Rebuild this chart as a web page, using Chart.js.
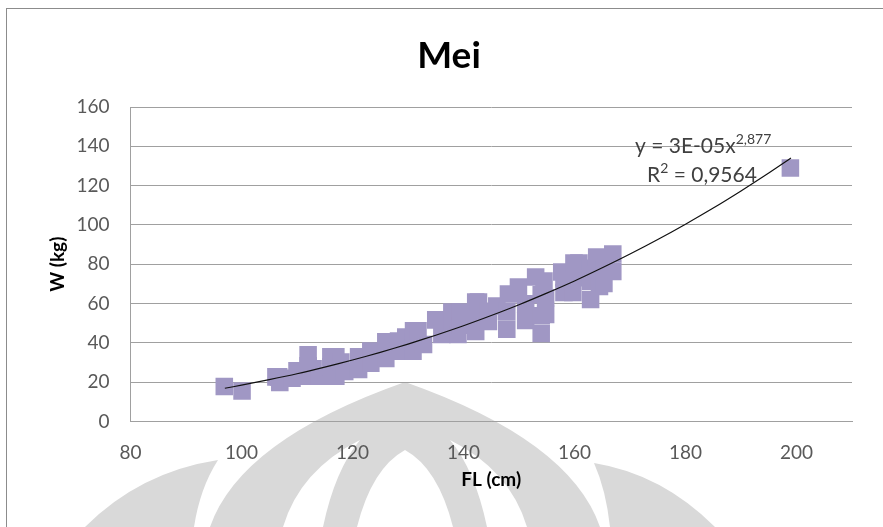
<!DOCTYPE html>
<html>
<head>
<meta charset="utf-8">
<script src="https://cdn.jsdelivr.net/npm/chart.js@4.4.1/dist/chart.umd.min.js"></script>
<style>
  html, body { margin: 0; padding: 0; background: #ffffff; }
  #wrap { width: 883px; height: 527px; }
</style>
</head>
<body>
<div id="wrap"><canvas id="c" width="883" height="527"></canvas></div>
<script>
// ---- data ----
const chartTitle = "Mei";
const xAxisTitle = "FL (cm)";
const yAxisTitle = "W (kg)";
const xTicks = [80, 100, 120, 140, 160, 180, 200];
const yTicks = [0, 20, 40, 60, 80, 100, 120, 140, 160];

// observations (FL in cm, W in kg)
const flCm = [
  96.9, 100.1,
  106.2, 106.7, 106.9, 109.1, 110.0,
  112.0, 112.0, 112.0, 112.9, 114.1,
  116.1, 116.1, 116.1, 117.0, 117.0, 117.0, 117.9, 118.6,
  121.1, 121.1, 123.3, 123.3, 126.0, 126.0, 126.4,
  128.3, 128.3, 129.6, 130.9, 130.9, 131.0, 131.8, 132.8,
  135.0, 136.1, 137.9, 138.0, 139.0, 139.5, 139.5,
  142.2, 142.2, 142.2, 142.7, 144.5, 144.5,
  146.0, 147.8, 147.8, 148.1, 149.9,
  151.2, 151.2, 153.0, 154.0, 154.0, 154.0, 154.5, 154.8, 154.8,
  157.7, 158.1, 158.1, 159.7, 159.9, 160.8, 160.8,
  162.9, 162.9, 162.9, 164.0, 164.5, 165.3, 165.3, 166.9, 166.9,
  198.9
];
const wKg = [
  17.8, 15.5,
  22.7, 22.7, 19.9, 22.0, 25.8,
  33.9, 23.0, 28.4, 26.8, 23.0,
  32.9, 23.0, 27.9, 32.9, 23.0, 27.9, 30.3, 25.5,
  32.9, 26.5, 35.9, 29.6, 40.5, 32.1, 40.5,
  35.7, 40.9, 43.0, 35.7, 40.9, 46.1, 46.1, 39.2,
  51.7, 44.3, 55.7, 49.0, 44.3, 55.7, 49.0,
  60.8, 45.8, 53.6, 60.8, 50.9, 56.1,
  58.8, 46.9, 55.9, 64.9, 68.4,
  51.4, 59.9, 73.5, 44.8, 64.5, 53.8, 71.5, 54.5, 63.0,
  76.1, 65.6, 73.1, 65.6, 80.6, 80.6, 73.1,
  62.1, 71.4, 78.0, 83.7, 68.7, 70.2, 76.9, 85.2, 76.3,
  129.0
];

// power trend line as drawn in the picture (sampled along the curve)
const trendX = [97, 100, 105, 110, 115, 120, 125, 130, 135, 140, 145, 150, 155, 160, 165, 170, 175, 180, 185, 190, 195, 199];
const trendY = [16.9, 18.5, 21.3, 24.3, 27.7, 31.3, 35.2, 39.4, 43.9, 48.7, 53.9, 59.4, 65.3, 71.5, 78.2, 85.2, 92.6, 100.4, 108.6, 117.3, 126.4, 134.0];

const eqMain = "y = 3E-05x";
const eqExp = "2,877";
const r2Lead = "R";
const r2Sup = "2";
const r2Rest = " = 0,9564";

// ---- build chart ----
const scatterPts = flCm.map((x, i) => ({ x: x, y: wKg[i] }));
const trendPts = trendX.map((x, i) => ({ x: x, y: trendY[i] }));

const FONT = "Lato, 'Open Sans', 'DejaVu Sans', sans-serif";

const decorPlugin = {
  id: 'decor',
  beforeDraw(chart) {
    const ctx = chart.ctx;
    ctx.save();
    ctx.fillStyle = '#ffffff';
    ctx.fillRect(0, 0, chart.width, chart.height);

    // faint watermark
    ctx.fillStyle = '#d9d9d9';
    ctx.beginPath();
    ctx.moveTo(85, 527); ctx.quadraticCurveTo(140, 472, 218, 460);
    ctx.quadraticCurveTo(200, 488, 194, 527); ctx.closePath();
    ctx.moveTo(715, 527); ctx.quadraticCurveTo(662, 474, 594, 463);
    ctx.quadraticCurveTo(606, 490, 610, 527); ctx.closePath();
    ctx.moveTo(210, 527); ctx.quadraticCurveTo(240, 440, 405, 382);
    ctx.quadraticCurveTo(570, 440, 600, 527); ctx.closePath();
    ctx.fill();
    ctx.fillStyle = '#ffffff';
    ctx.beginPath();
    ctx.moveTo(283, 527); ctx.quadraticCurveTo(300, 470, 360, 440);
    ctx.quadraticCurveTo(335, 470, 323, 527); ctx.closePath();
    ctx.moveTo(527, 527); ctx.quadraticCurveTo(510, 470, 450, 440);
    ctx.quadraticCurveTo(475, 470, 487, 527); ctx.closePath();
    ctx.moveTo(357, 527); ctx.quadraticCurveTo(372, 468, 405, 450);
    ctx.quadraticCurveTo(438, 468, 453, 527); ctx.closePath();
    ctx.fill();

    // chart frame
    ctx.strokeStyle = '#8c8c8c';
    ctx.lineWidth = 1;
    ctx.strokeRect(6.5, 8.5, 900, 600);

    // title
    ctx.fillStyle = '#000000';
    ctx.font = "bold 37px " + FONT;
    ctx.textAlign = 'center';
    ctx.textBaseline = 'alphabetic';
    ctx.fillText(chartTitle, 449, 68);
    ctx.restore();
  },
  afterDraw(chart) {
    const ctx = chart.ctx;
    ctx.save();
    ctx.fillStyle = '#404040';
    ctx.textAlign = 'left';
    ctx.textBaseline = 'alphabetic';
    const big = "21px " + FONT, small = "14px " + FONT;
    // line 1
    let x = 635;
    ctx.font = big;
    ctx.fillText(eqMain, x, 153);
    x += ctx.measureText(eqMain).width;
    ctx.font = small;
    ctx.fillText(eqExp, x, 144);
    // line 2
    x = 647;
    ctx.font = big;
    ctx.fillText(r2Lead, x, 182);
    x += ctx.measureText(r2Lead).width;
    ctx.font = small;
    ctx.fillText(r2Sup, x, 173);
    x += ctx.measureText(r2Sup).width;
    ctx.font = big;
    ctx.fillText(r2Rest, x, 182);
    ctx.restore();
  }
};

const gridGray = '#a0a0a0';

new Chart(document.getElementById('c'), {
  type: 'scatter',
  data: {
    datasets: [
      {
        type: 'line',
        label: 'trend',
        data: trendPts,
        borderColor: '#111111',
        borderWidth: 1.2,
        pointRadius: 0,
        fill: false,
        tension: 0.3,
        order: 0
      },
      {
        label: 'data',
        data: scatterPts,
        pointStyle: 'rect',
        pointRadius: 12.4,
        pointHoverRadius: 12.4,
        backgroundColor: 'rgb(160,151,196)',
        borderWidth: 0,
        order: 1
      }
    ]
  },
  options: {
    responsive: false,
    animation: false,
    devicePixelRatio: 1,
    layout: { padding: { left: 0, top: 107, right: 31, bottom: 0 } },
    plugins: {
      legend: { display: false },
      tooltip: { enabled: false },
      title: { display: false }
    },
    scales: {
      x: {
        type: 'linear',
        min: 80, max: 210,
        afterBuildTicks: (s) => { s.ticks = xTicks.map(v => ({ value: v })); },
        afterFit: (s) => { s.height = 105.5; },
        grid: { display: false, drawTicks: false },
        border: { display: true, color: gridGray, width: 1 },
        ticks: {
          padding: 20,
          color: '#595959',
          font: { family: FONT, size: 19 },
          maxRotation: 0
        },
        title: {
          display: true,
          text: xAxisTitle,
          color: '#000000',
          font: { family: FONT, size: 19, weight: 'bold' },
          padding: { top: 0, bottom: 35.6 }
        }
      },
      y: {
        type: 'linear',
        min: 0, max: 160,
        afterBuildTicks: (s) => { s.ticks = yTicks.map(v => ({ value: v })); },
        afterFit: (s) => { s.width = 130.5; },
        grid: { color: gridGray, lineWidth: 1, drawTicks: false },
        border: { display: true, color: gridGray, width: 1 },
        ticks: {
          padding: 21,
          color: '#595959',
          font: { family: FONT, size: 19 }
        },
        title: {
          display: true,
          text: yAxisTitle,
          color: '#000000',
          font: { family: FONT, size: 19, weight: 'bold' },
          padding: { top: 46.6, bottom: 0 }
        }
      }
    }
  },
  plugins: [decorPlugin]
});
</script>
</body>
</html>
